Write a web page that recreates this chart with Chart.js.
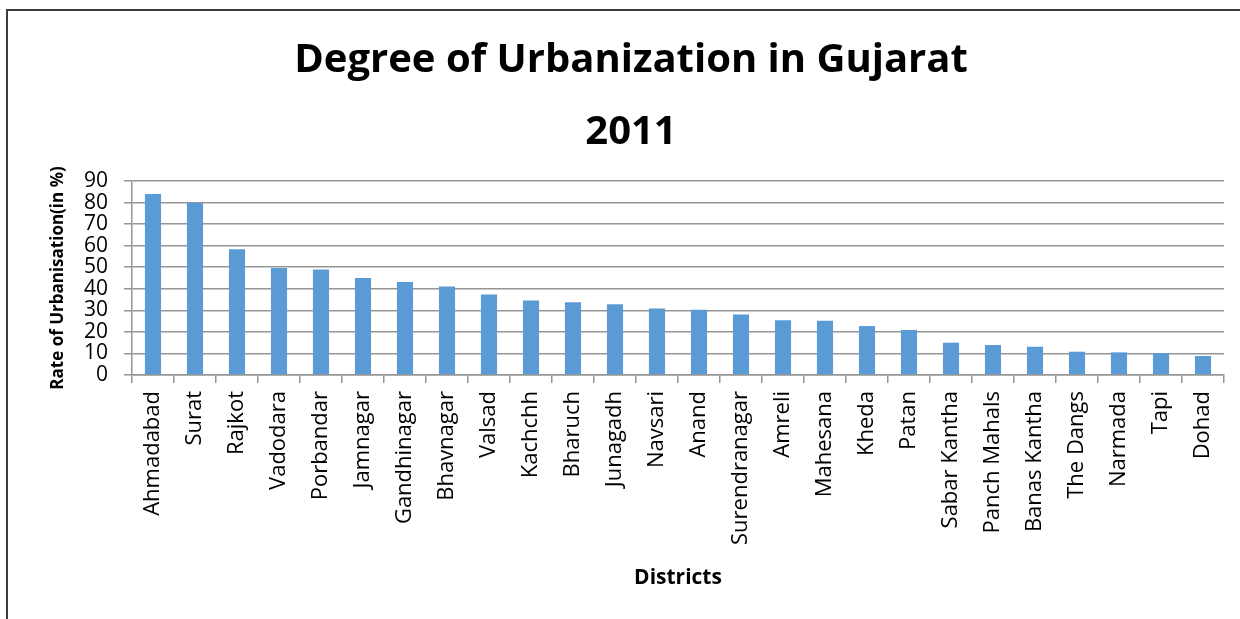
<!DOCTYPE html>
<html>
<head>
<meta charset="utf-8">
<script src="https://cdn.jsdelivr.net/npm/chart.js@4.4.1/dist/chart.umd.min.js"></script>
<style>
  html, body { margin: 0; padding: 0; background: #fff; overflow: hidden; }
  #wrap { position: relative; width: 1240px; height: 619px; overflow: hidden; }
  #frame { position: absolute; left: 6px; top: 9px; width: 1400px; height: 800px;
           border-left: 2px solid #3c3c3c; border-top: 2px solid #3c3c3c; box-sizing: border-box; }
  #c { position: absolute; left: 0; top: 0; }
</style>
</head>
<body>
<div id="wrap">
  <div id="frame"></div>
  <canvas id="c" width="1240" height="619"></canvas>
</div>
<script>
const categories = ['Ahmadabad','Surat','Rajkot','Vadodara','Porbandar','Jamnagar','Gandhinagar','Bhavnagar','Valsad','Kachchh','Bharuch','Junagadh','Navsari','Anand','Surendranagar','Amreli','Mahesana','Kheda','Patan','Sabar Kantha','Panch Mahals','Banas Kantha','The Dangs','Narmada','Tapi','Dohad'];
const urbanRate = [84.0, 79.8, 58.3, 49.6, 48.9, 45.0, 43.1, 41.0, 37.3, 34.6, 33.7, 32.8, 30.8, 30.3, 28.1, 25.4, 25.2, 22.7, 20.9, 15.0, 13.9, 13.1, 10.8, 10.5, 10.1, 8.8];
const yMin = 0, yMax = 90, yStep = 10;
const titleLines = ['Degree of Urbanization in Gujarat', '2011'];
const yTitle = 'Rate of Urbanisation(in %)';
const xTitle = 'Districts';

function build() {
  const gridColor = '#959595';
  new Chart(document.getElementById('c'), {
    type: 'bar',
    data: {
      labels: categories,
      datasets: [{
        data: urbanRate,
        backgroundColor: '#5b9bd5',
        borderWidth: 0,
        categoryPercentage: 0.8,
        barPercentage: 0.48
      }]
    },
    options: {
      responsive: false,
      animation: false,
      devicePixelRatio: 1,
      layout: { padding: { left: 38, right: 16, top: 0, bottom: 0 } },
      plugins: {
        legend: { display: false },
        tooltip: { enabled: false },
        title: {
          display: true,
          text: titleLines,
          color: '#000',
          font: { family: 'Open Sans', size: 40, weight: 'bold', lineHeight: 1.8 },
          padding: { top: 25, bottom: 12 }
        }
      },
      scales: {
        x: {
          offset: true,
          grid: { display: true, drawOnChartArea: false, offset: true, color: gridColor, tickLength: 8, lineWidth: 1.5 },
          border: { display: true, color: gridColor, width: 1.5 },
          ticks: { autoSkip: false, minRotation: 90, maxRotation: 90, padding: 8, color: '#000',
                   font: { family: 'Open Sans', size: 22 } },
          title: { display: true, text: xTitle, color: '#000',
                   font: { family: 'Open Sans', size: 21, weight: 'bold', lineHeight: 1.2 },
                   padding: { top: 0, bottom: 28 } },
          afterFit: (s) => { s.height = 244; }
        },
        y: {
          min: yMin, max: yMax,
          grid: { color: gridColor, tickLength: 8, lineWidth: 1.5 },
          border: { display: true, color: gridColor, width: 1.5 },
          ticks: { stepSize: yStep, autoSkip: false, padding: 16, color: '#000',
                   font: { family: 'Open Sans', size: 21, lineHeight: 1 } },
          title: { display: true, text: yTitle, color: '#000',
                   font: { family: 'Open Sans', size: 17, weight: 'bold', lineHeight: 1.2 },
                   padding: { top: 10, bottom: 0 } },
          afterFit: (s) => { s.width = 94; }
        }
      }
    }
  });
}

const fontLoads = [
  '40px "Open Sans"', 'bold 40px "Open Sans"', '22px "Open Sans"'
].map(f => document.fonts ? document.fonts.load(f).catch(() => null) : Promise.resolve());
Promise.race([Promise.all(fontLoads), new Promise(r => setTimeout(r, 1500))]).then(build);
</script>
</body>
</html>
